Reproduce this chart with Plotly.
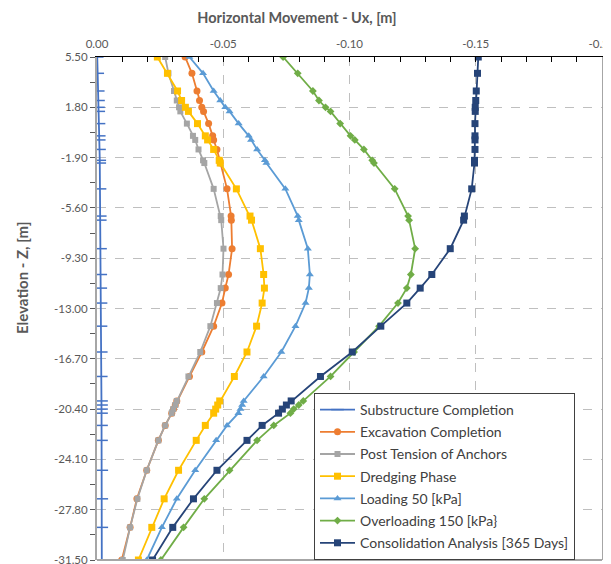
import plotly.graph_objects as go

elevation = [5.50, 4.30, 3.00, 2.30, 1.80, 1.50, 0.60, -0.30, -0.60, -1.30, -2.10, -2.30,
             -4.20, -6.20, -6.50, -8.60, -10.50, -11.50, -12.60, -14.30, -16.20, -18.00,
             -19.80, -20.10, -20.40, -20.70, -21.60, -22.70, -24.90, -27.00, -29.10, -31.50]

substructure = [-0.0001, -0.0003, -0.0005, -0.0006, -0.0006, -0.0007, -0.0008, -0.0009, -0.0009,
                -0.0010, -0.0011, -0.0011, -0.0012, -0.0013, -0.0013, -0.0014, -0.0015, -0.0015,
                -0.0016, -0.0016, -0.0017, -0.0017, -0.0018, -0.0018, -0.0018, -0.0018, -0.0018,
                -0.0018, -0.0019, -0.0019, -0.0019, -0.0019]
excavation = [-0.0349, -0.0376, -0.0396, -0.0406, -0.0415, -0.0422, -0.0442, -0.0458, -0.0462,
              -0.0475, -0.0486, -0.0488, -0.0515, -0.0531, -0.0532, -0.0535, -0.0521, -0.0508,
              -0.0495, -0.0462, -0.0415, -0.0366, -0.0316, -0.0310, -0.0303, -0.0296, -0.0270,
              -0.0243, -0.0197, -0.0158, -0.0131, -0.0098]
post_tension = [-0.0270, -0.0283, -0.0305, -0.0316, -0.0325, -0.0330, -0.0356, -0.0380, -0.0389,
                -0.0402, -0.0420, -0.0425, -0.0462, -0.0490, -0.0492, -0.0501, -0.0497, -0.0490,
                -0.0475, -0.0449, -0.0409, -0.0362, -0.0316, -0.0310, -0.0302, -0.0296, -0.0270,
                -0.0243, -0.0197, -0.0160, -0.0131, -0.0102]
dredging = [-0.0239, -0.0279, -0.0319, -0.0335, -0.0350, -0.0362, -0.0398, -0.0429, -0.0438,
            -0.0462, -0.0484, -0.0488, -0.0552, -0.0606, -0.0612, -0.0647, -0.0660, -0.0663,
            -0.0654, -0.0632, -0.0594, -0.0544, -0.0486, -0.0478, -0.0470, -0.0462, -0.0429,
            -0.0393, -0.0323, -0.0266, -0.0217, -0.0164]
loading50 = [-0.0366, -0.0420, -0.0462, -0.0488, -0.0508, -0.0525, -0.0561, -0.0601, -0.0610,
             -0.0634, -0.0665, -0.0671, -0.0746, -0.0795, -0.0799, -0.0835, -0.0843, -0.0839,
             -0.0826, -0.0786, -0.0730, -0.0660, -0.0581, -0.0575, -0.0568, -0.0560, -0.0515,
             -0.0472, -0.0389, -0.0316, -0.0257, -0.0197]
overloading150 = [-0.0737, -0.0795, -0.0855, -0.0879, -0.0905, -0.0925, -0.0963, -0.1004, -0.1021,
                  -0.1057, -0.1090, -0.1097, -0.1179, -0.1232, -0.1236, -0.1260, -0.1243, -0.1227,
                  -0.1192, -0.1117, -0.1018, -0.0925, -0.0817, -0.0799, -0.0779, -0.0766, -0.0700,
                  -0.0634, -0.0525, -0.0425, -0.0343, -0.0253]
consolidation = [-0.1510, -0.1507, -0.1502, -0.1500, -0.1498, -0.1498, -0.1497, -0.1497, -0.1497,
                 -0.1497, -0.1495, -0.1495, -0.1484, -0.1455, -0.1452, -0.1399, -0.1326, -0.1280,
                 -0.1227, -0.1124, -0.1011, -0.0885, -0.0769, -0.0750, -0.0734, -0.0719, -0.0654,
                 -0.0594, -0.0475, -0.0382, -0.0300, -0.0220]

x_tickvals = [0.00, -0.05, -0.10, -0.15, -0.20]
x_ticktext = ["0.00", "-0.05", "-0.10", "-0.15", "-0.20"]
y_tickvals = [5.50, 1.80, -1.90, -5.60, -9.30, -13.00, -16.70, -20.40, -24.10, -27.80, -31.50]
y_ticktext = ["5.50", "1.80", "-1.90", "-5.60", "-9.30", "-13.00", "-16.70", "-20.40",
              "-24.10", "-27.80", "-31.50"]

series = [
    ("Substructure Completion", substructure, "#4472C4", "line-ew", 9),
    ("Excavation Completion", excavation, "#ED7D31", "circle", 7),
    ("Post Tension of Anchors", post_tension, "#A5A5A5", "square", 6),
    ("Dredging Phase", dredging, "#FFC000", "square", 7),
    ("Loading 50 [kPa]", loading50, "#5B9BD5", "triangle-up", 7),
    ("Overloading 150 [kPa}", overloading150, "#70AD47", "diamond", 6),
    ("Consolidation Analysis [365 Days]", consolidation, "#264478", "square", 7),
]

fig = go.Figure()
for i, (name, vals, color, sym, size) in enumerate(series):
    fig.add_trace(go.Scatter(
        x=vals, y=elevation, name=name, mode="lines+markers",
        legendgroup=f"g{i}",
        line=dict(color=color, width=1.8),
        marker=dict(symbol=sym, size=size, color=color,
                    line=dict(color=color, width=1.5 if sym == "line-ew" else 0)),
    ))

# page offset from default body margin
OFF = 8
W, H = 611 - OFF, 564 - OFF
# plot area in page pixels: x 97..602, y 57..560
L, R, T, B = 97 - OFF, 611 - 602, 57 - OFF, 564 - 560
pw = W - L - R
ph = H - T - B

font_family = "Lato, 'Open Sans', sans-serif"
fig.update_layout(
    width=W, height=H,
    margin=dict(l=L, r=R, t=T, b=B, autoexpand=False),
    paper_bgcolor="white", plot_bgcolor="white",
    font=dict(family=font_family, color="#595959", size=11),
    title=dict(text="<b>Horizontal Movement - Ux, [m]</b>",
               xref="container", x=(297 - OFF) / W, xanchor="center",
               yref="container", y=1 - (18 - OFF) / H, yanchor="middle",
               font=dict(size=14.5, color="#595959", family=font_family)),
    showlegend=True,
    legend=dict(x=(314 - 97) / pw, y=(560 - 393) / ph, xanchor="left", yanchor="top",
                bgcolor="white", bordercolor="#404040", borderwidth=1,
                font=dict(size=14, color="#404040", family=font_family),
                traceorder="grouped", tracegroupgap=1, itemwidth=35),
    xaxis=dict(
        range=[0, -0.20], side="top", tickvals=x_tickvals, ticktext=x_ticktext,
        automargin=False, ticklabelstandoff=3, ticklabeloverflow="allow",
        showline=True, linecolor="black", linewidth=1,
        ticks="inside", ticklen=5, tickcolor="black",
        minor=dict(dtick=0.01, tick0=0, ticks="inside", ticklen=5, tickcolor="black", showgrid=False),
        showgrid=True, gridcolor="#BFBFBF", griddash="dash", gridwidth=1,
        zeroline=False, tickfont=dict(size=11.5, color="#595959"),
    ),
    yaxis=dict(
        range=[-31.5, 5.5], tickvals=y_tickvals, ticktext=y_ticktext,
        automargin=False, ticklabeloverflow="allow",
        showline=True, linecolor="#A6A6A6", linewidth=2, mirror=True,
        ticks="outside", ticklen=5, tickcolor="#595959",
        minor=dict(tick0=5.5, dtick=1.85, ticks="outside", ticklen=5, tickcolor="#595959", showgrid=False),
        showgrid=True, gridcolor="#BFBFBF", griddash="dash", gridwidth=1,
        zeroline=False, tickfont=dict(size=11.5, color="#595959"),
    ),
    annotations=[dict(text="<b>Elevation - Z, [m]</b>", textangle=-90, showarrow=False,
                      xref="paper", yref="paper", x=(22 - 97) / pw, y=(560 - 278) / ph,
                      xanchor="center", yanchor="middle",
                      font=dict(size=15, color="#595959", family=font_family))],
    shapes=[dict(type="line", xref="paper", yref="paper", x0=0, x1=1, y0=0, y1=0,
                 line=dict(color="#A6A6A6", width=2))],
)

fig.write_html("out.html")
